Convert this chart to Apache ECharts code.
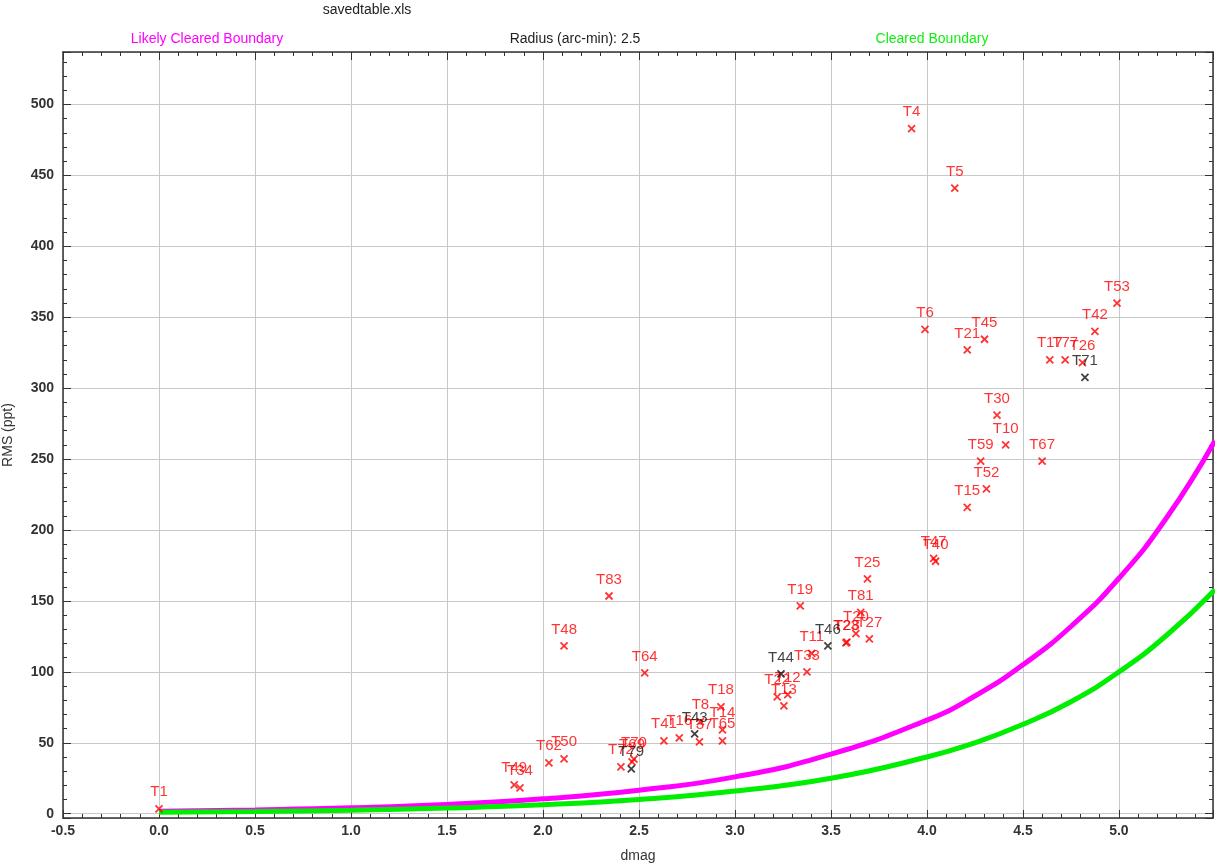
<!DOCTYPE html>
<html>
<head>
<meta charset="utf-8">
<title>savedtable.xls</title>
<script src="https://cdn.jsdelivr.net/npm/echarts@6/dist/echarts.min.js"></script>
<style>
  html, body { margin: 0; padding: 0; background: #fff; }
  #chart { width: 1215px; height: 867px; }
</style>
</head>
<body>
<div id="chart"></div>
<script>
// 红色目标
var redNames = ['T1', 'T4', 'T5', 'T6', 'T21', 'T45', 'T53', 'T42', 'T17', 'T77', 'T26',
  'T30', 'T10', 'T59', 'T52', 'T15', 'T67', 'T47', 'T40', 'T25', 'T81', 'T19', 'T20',
  'T27', 'T28', 'T23', 'T11', 'T33', 'T22', 'T12', 'T13', 'T41', 'T16', 'T8', 'T37',
  'T18', 'T14', 'T65', 'T72', 'T69', 'T70', 'T62', 'T50', 'T49', 'T34', 'T83', 'T48', 'T64'];
var redDmag = [0.0, 3.92, 4.145, 3.99, 4.21, 4.30, 4.99, 4.875, 4.64, 4.72, 4.81,
  4.365, 4.41, 4.28, 4.31, 4.21, 4.60, 4.035, 4.045, 3.69, 3.655, 3.34, 3.63,
  3.70, 3.583, 3.578, 3.40, 3.375, 3.22, 3.275, 3.255, 2.63, 2.71, 2.82, 2.815,
  2.927, 2.935, 2.935, 2.406, 2.464, 2.474, 2.031, 2.11, 1.85, 1.88, 2.344, 2.11, 2.53];
var redRms = [3.5, 483, 441, 341.5, 327, 334.5, 360, 340, 320, 320, 318,
  281, 260, 248.6, 229, 216, 248.6, 180, 178, 165.5, 142, 146.5, 127,
  123.2, 121, 120.5, 113, 100, 82.4, 84, 76, 51.4, 53.5, 65, 50.7,
  75.4, 59.2, 51.4, 33.1, 36.6, 38.5, 35.9, 38.7, 20.4, 18.3, 153.5, 118.3, 99.3];

// 黑色目标
var blackNames = ['T79', 'T43', 'T46', 'T44', 'T71'];
var blackDmag = [2.46, 2.79, 3.484, 3.24, 4.823];
var blackRms = [31.7, 56.3, 118.3, 98.6, 307.7];

// 边界曲线
var curveDmag = [0, 0.5, 1.0, 1.5, 2.0, 2.5, 3.0, 3.5, 4.0, 4.25, 4.5, 4.75, 5.0, 5.25, 5.5];
var likelyRms = [1.7, 2.7, 4.2, 6.6, 10.5, 16.6, 26, 42, 66, 83, 105, 132, 166, 209, 263];
var clearedRms = [1.0, 1.6, 2.5, 4.0, 6.3, 10, 16, 25, 40, 50, 63, 79, 100, 126, 158];

var chart = echarts.init(document.getElementById('chart'));

function pts(names, xs, ys) {
  var out = [];
  for (var i = 0; i < names.length; i++) {
    out.push({ name: names[i], value: [xs[i], ys[i]] });
  }
  return out;
}
function line(xs, ys) {
  var out = [];
  for (var i = 0; i < xs.length; i++) out.push([xs[i], ys[i]]);
  return out;
}

var FONT = 'Liberation Sans, Arial, sans-serif';
var crossPath = 'path://M0,0L10,10M10,0L0,10';

function xAx(pos, main) {
  return {
    type: 'value', position: pos, min: -0.5, max: 5.49, interval: 0.5,
    name: main ? 'dmag' : '', nameLocation: 'middle', nameGap: 31,
    nameTextStyle: { color: '#333', fontSize: 14, fontFamily: FONT },
    axisLine: { show: true, onZero: false, lineStyle: { color: '#333', width: 1.5 } },
    axisTick: { show: true, inside: true, length: 8, lineStyle: { color: '#333' } },
    minorTick: { show: true, splitNumber: 5, length: 4, lineStyle: { color: '#333' } },
    axisLabel: {
      show: main, showMaxLabel: false, margin: 6, color: '#333', fontSize: 14,
      fontWeight: 'bold', fontFamily: FONT,
      formatter: function (v) { return v.toFixed(1); }
    },
    splitLine: { show: main, lineStyle: { color: '#c8c8c8', width: 1 } }
  };
}
function yAx(pos, main) {
  return {
    type: 'value', position: pos, min: -3, max: 537, splitNumber: 11,
    name: main ? 'RMS (ppt)' : '', nameLocation: 'middle', nameGap: 48,
    nameTextStyle: { color: '#333', fontSize: 14, fontFamily: FONT },
    axisLine: { show: true, onZero: false, lineStyle: { color: '#333', width: 1.5 } },
    axisTick: { show: true, inside: true, length: 8, lineStyle: { color: '#333' } },
    minorTick: { show: true, splitNumber: 5, length: 4, lineStyle: { color: '#333' } },
    axisLabel: {
      show: main, showMinLabel: false, showMaxLabel: false, margin: 9, color: '#333',
      fontSize: 14, fontWeight: 'bold', fontFamily: FONT
    },
    splitLine: { show: main, lineStyle: { color: '#c8c8c8', width: 1 } }
  };
}

function titleText(x, y, text, color) {
  return {
    type: 'text', x: x, y: y,
    style: {
      text: text, fill: color, font: '14px ' + FONT,
      textAlign: 'center', textVerticalAlign: 'middle', align: 'center', verticalAlign: 'middle'
    }
  };
}

chart.setOption({
  animation: false,
  backgroundColor: '#fff',
  grid: { left: 63, right: 2, top: 52, bottom: 49, containLabel: false, outerBoundsMode: 'none' },
  graphic: [
    titleText(367, 10, 'savedtable.xls', '#222'),
    titleText(207, 39, 'Likely Cleared Boundary', '#ff00ff'),
    titleText(575, 39, 'Radius (arc-min): 2.5', '#222'),
    titleText(932, 39, 'Cleared Boundary', '#11ee11')
  ],
  xAxis: [xAx('bottom', true), xAx('top', false)],
  yAxis: [yAx('left', true), yAx('right', false)],
  series: [
    {
      name: 'Likely Cleared Boundary', type: 'line', smooth: true, showSymbol: false,
      data: line(curveDmag, likelyRms), z: 1,
      lineStyle: { color: '#ff00ff', width: 5 }
    },
    {
      name: 'Cleared Boundary', type: 'line', smooth: true, showSymbol: false,
      data: line(curveDmag, clearedRms), z: 1,
      lineStyle: { color: '#00ee00', width: 5 }
    },
    {
      type: 'scatter', symbol: crossPath, symbolSize: 7, z: 3,
      data: pts(redNames, redDmag, redRms),
      itemStyle: { color: 'none', borderColor: '#ff0000', borderWidth: 1.8 },
      label: {
        show: true, position: 'top', distance: 3, formatter: '{b}',
        color: '#ff0000', fontSize: 15, fontFamily: FONT
      }
    },
    {
      type: 'scatter', symbol: crossPath, symbolSize: 7, z: 4,
      data: pts(blackNames, blackDmag, blackRms),
      itemStyle: { color: 'none', borderColor: '#111', borderWidth: 1.8 },
      label: {
        show: true, position: 'top', distance: 3, formatter: '{b}',
        color: '#111', fontSize: 15, fontFamily: FONT
      }
    }
  ]
});
</script>
</body>
</html>
